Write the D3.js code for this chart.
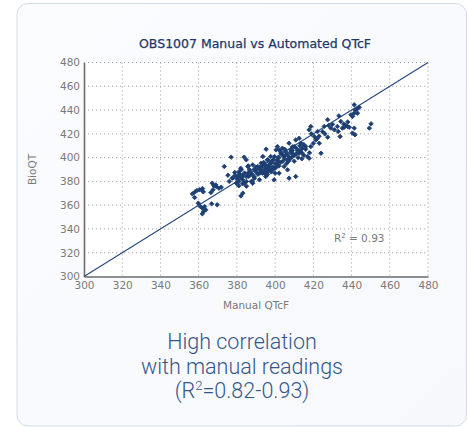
<!DOCTYPE html>
<html><head><meta charset="utf-8">
<script src="https://cdn.jsdelivr.net/npm/d3@7"></script>
<style>
html,body{margin:0;padding:0;background:#fff;}
svg{display:block;}
</style></head>
<body>
<svg id="chart" width="468" height="427"></svg>
<script>
// ---- data ----
const title = "OBS1007 Manual vs Automated QTcF";
const xLabel = "Manual QTcF";
const yLabel = "BioQT";
const xTicks = [300,320,340,360,380,400,420,440,460,480];
const yTicks = [300,320,340,360,380,400,420,440,460,480];
const manualQTcF = [356.7,357.9,359.1,360.5,361.7,362.4,359.8,360.9,361.9,362.6,361.9,363.1,363.7,367.1,368,367.5,366.4,369.2,370.6,371.8,366.8,369.7,373.4,375.3,377,377.5,378.9,379.7,380.5,381.4,382.3,381,382.1,383.1,383.8,384.9,383.1,384,384.9,385.7,386.6,387.5,388.3,387,389.2,390.1,390.9,391.8,392.7,393.6,394.4,395.3,396.2,397,397.9,398.8,400.5,399.7,401.4,394.4,392.7,396.2,388.3,385.7,381,
392.5,394.2,395.1,396,396.9,397.7,398.6,393.4,395.1,399.5,400,401.2,402.1,403,403.8,401.7,404.7,405.6,406.5,407.3,408.2,409.1,410,410.8,411.7,412.6,413.5,414.3,412.6,416,416.9,417.8,418.7,417.8,418.7,420.5,421.3,422.2,423.1,424,424.8,425.7,427.5,427.5,429.2,431,432.6,433.4,434.4,435.2,434,436.2,437.1,437.9,438.8,439.7,440.5,441.4,441.4,443.1,444,440.5,441.4,441.8,449.3,450.2,407.3,410.8,404.7,406.5,409.1,402.1,
381,382,383,384,385,386,387,388,389,390,391,392,393,394,395,396,397,398,399,400,401,402,403,404,405,406,407,408,409,410,411,412,413,414,415,416,380,379,382,386,389,392,395,397,399,401,403,405,407,409,411,413,415,418,420,422,419,423,426,428,430,433,436,438,442,443,362,358,369,383,385,376,378,388,390,394,396,398,400,402,404,406,408,410,412,414];
const bioQT = [369.5,366.4,372.3,372.9,372.9,371.2,361.7,358.9,357.5,354.7,352.7,358.9,356.1,378.5,376.3,372.9,370.6,375.7,374.3,375.1,361.1,360.3,392.5,385.2,400.4,382.7,387.5,378.5,384.1,386.3,389.7,376.3,367.8,370.1,400.4,398.1,381.3,378.5,384.1,386.9,389.7,379.9,378.5,385.5,382.7,389.7,392.5,381.3,395.3,400.9,393.9,407.1,398.1,392.5,395.3,391.1,406.5,400.9,393.9,386.9,388.3,388.3,393.9,392.5,379.9,
392.5,395.3,391.1,398.1,393.9,400.9,389.7,386.9,384.1,381.3,386.9,409.3,406.5,403.7,407.9,396.7,400.9,405.1,398.1,412.1,406.5,403.7,409.3,414.9,406.5,416.3,412.1,407.9,403.7,409.3,400.9,399.5,409.3,423.4,426.2,417.7,414.9,421.9,412.1,403.7,421.9,426.2,431.8,417.2,424.8,423.4,426.2,435.1,430.4,424.8,417.7,425.6,426.8,426.2,425.6,436,434.6,437.4,444.4,437.4,442.4,420.6,424.8,419.2,424.8,428.4,382.7,384.1,392.5,389.7,400.9,386.9,
388,383,385,387,380,384,388,386,390,388,386,390,392,389,393,391,394,396,392,395,398,400,396,402,399,403,401,404,406,402,408,405,410,404,411,407,382,385,391,393,384,387,389,390,398,393,405,407,397,409,403,406,402,404,412,416,420,418,420,427,428,422,428,430,440,441,374,371,377,378,376,380,383,380,392,396,386,388,391,393,397,395,399,397,400,399];
const r2Label = "0.93";
const captionLines = ["High correlation","with manual readings"];

// ---- drawing ----
const svg = d3.select("#chart");
const defs = svg.append("defs");
const grad = defs.append("linearGradient").attr("id","cardbg").attr("x1","0").attr("y1","0").attr("x2","1").attr("y2","1");
grad.append("stop").attr("offset","0%").attr("stop-color","#fbfcfe");
grad.append("stop").attr("offset","100%").attr("stop-color","#f6f8fb");

svg.append("rect").attr("x",17).attr("y",3.5).attr("width",449.5).attr("height",422.5)
  .attr("rx",11).attr("fill","url(#cardbg)").attr("stroke","#d3dbe8").attr("stroke-width",1);

const pLeft = 84, pRight = 428, pTop = 62.5, pBottom = 276.5;
const x = d3.scaleLinear().domain([300,480]).range([pLeft,pRight]);
const y = d3.scaleLinear().domain([300,480]).range([pBottom,pTop]);

svg.append("rect").attr("x",pLeft).attr("y",pTop).attr("width",pRight-pLeft).attr("height",pBottom-pTop).attr("fill","#ffffff");

// grid
const grid = svg.append("g");
grid.selectAll("line.v").data(xTicks.filter(d=>d>300)).join("line")
  .attr("x1",d=>x(d)).attr("x2",d=>x(d)).attr("y1",pTop).attr("y2",pBottom)
  .attr("stroke","#a8a8a8").attr("stroke-width",1).attr("stroke-dasharray","1.2,2.8");
grid.selectAll("line.h").data(yTicks.filter(d=>d>300)).join("line")
  .attr("y1",d=>y(d)).attr("y2",d=>y(d)).attr("x1",pLeft).attr("x2",pRight)
  .attr("stroke","#a8a8a8").attr("stroke-width",1).attr("stroke-dasharray","1.2,2.8");

// axes
const xAxis = svg.append("g").attr("transform",`translate(0,${pBottom})`)
  .call(d3.axisBottom(x).tickValues(xTicks).tickSize(0).tickPadding(5));
const yAxis = svg.append("g").attr("transform",`translate(${pLeft},0)`)
  .call(d3.axisLeft(y).tickValues(yTicks).tickSize(0).tickPadding(4));
[xAxis,yAxis].forEach(a=>{
  a.select(".domain").attr("stroke","#6b6b6b").attr("stroke-width",1.6);
  a.selectAll("text").attr("fill","#7a7a7a").attr("font-family","DejaVu Sans, sans-serif").attr("font-size",10.5);
});

// identity line
svg.append("line").attr("x1",x(300)).attr("y1",y(300)).attr("x2",x(480)).attr("y2",y(480))
  .attr("stroke","#23497f").attr("stroke-width",1.1);

// points
const pts = manualQTcF.map((m,i)=>({m, b: bioQT[i]}));
const sym = d3.symbol().type(d3.symbolSquare).size(10);
svg.append("g").selectAll("path").data(pts).join("path")
  .attr("d",sym).attr("transform",d=>`translate(${x(d.m)},${y(d.b)}) rotate(45)`)
  .attr("fill","#1d3f73").attr("stroke","#1d3f73").attr("stroke-width",0.8).attr("stroke-linejoin","round");

// title
svg.append("text").attr("x",255).attr("y",48).attr("text-anchor","middle")
  .attr("font-family","DejaVu Sans, sans-serif").attr("font-size",12.5).attr("fill","#1c3768")
  .attr("stroke","#1c3768").attr("stroke-width",0.25)
  .text(title);

// axis labels
svg.append("text").attr("x",x(390)).attr("y",309).attr("text-anchor","middle")
  .attr("font-family","DejaVu Sans, sans-serif").attr("font-size",10.5).attr("fill","#7a7a7a").text(xLabel);
svg.append("text").attr("transform",`translate(36,${y(390)}) rotate(-90)`).attr("text-anchor","middle")
  .attr("font-family","DejaVu Sans, sans-serif").attr("font-size",10.5).attr("fill","#7a7a7a").text(yLabel);

// R2 annotation
const r2 = svg.append("text").attr("x",x(444)).attr("y",y(329)).attr("text-anchor","middle")
  .attr("font-family","DejaVu Sans, sans-serif").attr("font-size",10.5).attr("fill","#7a7a7a");
r2.append("tspan").text("R");
r2.append("tspan").attr("dy",-4).attr("font-size",7).text("2");
r2.append("tspan").attr("dy",4).text(" = " + r2Label);

// caption
const cap = svg.append("g").attr("font-family","Roboto, sans-serif").attr("font-weight",300)
  .attr("font-size",21.5).attr("fill","#35568a").attr("text-anchor","middle");
captionLines.forEach((t,i)=>{
  cap.append("text").attr("x",242).attr("y",349 + i*25).text(t);
});
const c3 = cap.append("text").attr("x",242).attr("y",398);
c3.append("tspan").text("(R");
c3.append("tspan").attr("dy",-8).attr("font-size",13).text("2");
c3.append("tspan").attr("dy",8).text("=0.82-0.93)");
</script>
</body></html>
